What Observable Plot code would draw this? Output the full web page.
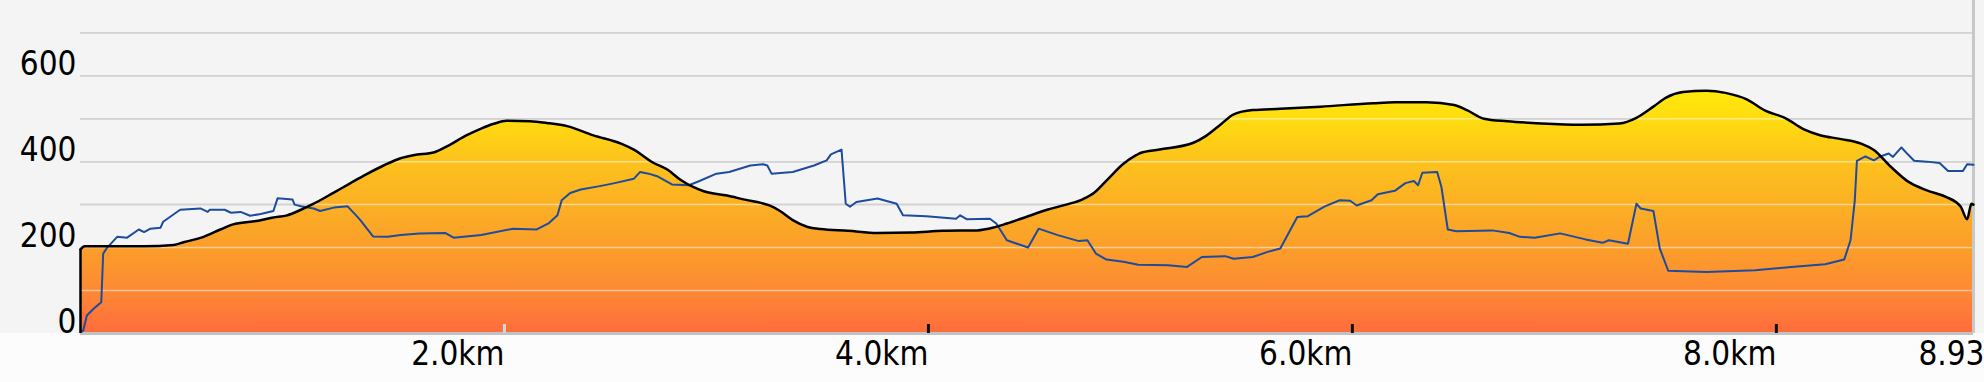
<!DOCTYPE html>
<html>
<head>
<meta charset="utf-8">
<script src="https://cdn.jsdelivr.net/npm/d3@7"></script>
<script src="https://cdn.jsdelivr.net/npm/@observablehq/plot@0.6"></script>
<style>
  html, body { margin: 0; padding: 0; background: #fcfcfc; }
  #chart svg { display: block; }
</style>
</head>
<body>
<svg width="0" height="0" style="position:absolute">
  <defs>
    <linearGradient id="elevGrad" x1="0" y1="0" x2="0" y2="1">
      <stop offset="0" stop-color="#ffe90a"/>
      <stop offset="0.12" stop-color="#ffdc10"/>
      <stop offset="0.29" stop-color="#fdc21c"/>
      <stop offset="0.47" stop-color="#fcb024"/>
      <stop offset="0.65" stop-color="#fb9e2a"/>
      <stop offset="0.82" stop-color="#fd8a33"/>
      <stop offset="1" stop-color="#ff6c3d"/>
    </linearGradient>
  </defs>
</svg>
<div id="chart"></div>
<script>
// Elevation profile (km, value)
const elevKm = [0.00,0.02,0.30,0.44,0.49,0.57,0.66,0.72,0.82,0.91,0.975,1.04,1.10,1.195,1.27,1.35,1.43,1.51,1.57,1.67,1.73,1.82,1.89,1.95,2.01,2.12,2.20,2.30,2.42,2.55,2.61,2.70,2.77,2.83,2.89,2.94,3.05,3.14,3.21,3.25,3.30,3.36,3.43,3.49,3.62,3.76,3.92,4.07,4.23,4.31,4.37,4.47,4.56,4.65,4.73,4.78,4.84,4.92,4.98,5.00,5.09,5.25,5.31,5.38,5.44,5.53,5.66,5.85,6.10,6.20,6.35,6.48,6.54,6.62,6.73,6.89,7.08,7.26,7.34,7.42,7.48,7.56,7.67,7.76,7.86,7.95,8.04,8.13,8.21,8.30,8.40,8.46,8.54,8.62,8.71,8.80,8.87,8.90,8.92,8.93];
const elevVal = [196,203,203,206,213,223,242,254,261,270,275,288,302,328,349,371,391,408,415,422,436,461,477,488,495,494,490,482,461,442,428,398,381,358,341,331,321,311,304,298,285,264,248,243,239,234,235,239,240,247,256,273,288,300,313,327,356,395,415,420,428,444,460,487,510,520,523,528,536,538,538,532,520,500,494,489,486,489,502,528,549,562,565,560,545,518,502,475,461,453,442,427,388,354,333,318,295,266,302,300];

// Second series (blue line)
const lineKm = [0.008,0.013,0.03,0.063,0.098,0.107,0.126,0.173,0.22,0.275,0.30,0.33,0.377,0.39,0.47,0.566,0.60,0.61,0.68,0.71,0.755,0.80,0.85,0.91,0.93,1.00,1.01,1.04,1.10,1.13,1.195,1.26,1.30,1.32,1.38,1.45,1.51,1.60,1.72,1.76,1.89,2.04,2.15,2.21,2.25,2.27,2.31,2.36,2.45,2.52,2.61,2.64,2.68,2.72,2.79,2.87,2.92,3.00,3.06,3.16,3.22,3.24,3.26,3.36,3.46,3.52,3.54,3.59,3.61,3.63,3.66,3.76,3.85,3.88,3.99,4.13,4.15,4.18,4.29,4.32,4.37,4.47,4.52,4.61,4.71,4.75,4.79,4.84,4.92,4.99,5.13,5.22,5.29,5.40,5.44,5.53,5.60,5.66,5.74,5.79,5.87,5.94,5.99,6.02,6.09,6.12,6.20,6.25,6.29,6.31,6.33,6.40,6.42,6.45,6.49,6.66,6.74,6.79,6.86,6.98,7.10,7.18,7.21,7.30,7.34,7.36,7.42,7.45,7.49,7.67,7.90,8.07,8.23,8.32,8.35,8.37,8.38,8.42,8.46,8.49,8.53,8.55,8.59,8.62,8.65,8.71,8.77,8.81,8.88,8.90,8.93];
const lineVal = [5,7,42,58,73,186,200,225,223,242,236,244,246,260,288,291,283,288,288,281,283,274,278,285,315,312,300,296,291,285,293,296,275,264,226,225,229,233,234,223,229,244,242,257,275,310,327,335,343,350,360,376,372,366,347,345,355,372,376,391,394,391,372,376,391,403,417,428,302,295,306,314,302,275,273,267,275,266,267,256,217,200,244,229,215,217,186,172,167,160,159,155,178,180,174,178,190,198,271,273,296,310,309,298,310,324,332,350,355,345,374,376,341,242,238,240,234,225,223,233,219,211,217,209,302,291,285,198,146,143,147,155,161,172,217,310,402,412,403,412,419,411,433,417,402,400,397,378,378,394,393];

// Axes
const gridVals = [100,200,300,400,500,600,700];
const yTicks = [0,200,400,600];
const xTicks = [2,4,6,8];
const xTickLabels = ["2.0km","4.0km","6.0km","8.0km"];
const xEnd = 8.93;
const xEndLabel = "8.93";

const elev = elevKm.map((k, i) => ({km: k, v: elevVal[i]}));
const line = lineKm.map((k, i) => ({km: k, v: lineVal[i]}));

const font = "'DejaVu Sans Condensed', 'DejaVu Sans', sans-serif";

const chart = Plot.plot({
  width: 1984,
  height: 382,
  marginLeft: 80,
  marginRight: 11,
  marginTop: 0,
  marginBottom: 49,
  x: {domain: [0, xEnd], axis: null},
  y: {domain: [0, 775], axis: null},
  style: {
    background: "linear-gradient(to bottom, #f4f4f4 0, #f4f4f4 333px, #fcfcfc 333px)",
    fontFamily: font,
    overflow: "visible"
  },
  marks: [
    Plot.ruleY(gridVals, {stroke: "#a6a6a6", strokeWidth: 1.5}),
    Plot.areaY(elev, {x: "km", y: "v", fill: "url(#elevGrad)", curve: "monotone-x"}),
    Plot.ruleY(gridVals, {stroke: "#ffffff", strokeOpacity: 0.5, strokeWidth: 1.5, ariaLabel: "inner-grid"}),
    Plot.ruleY([0], {stroke: "#c2c2c2", strokeWidth: 3}),
    Plot.ruleX([xEnd], {stroke: "#c8c8c8", strokeWidth: 3}),
    Plot.line(line, {x: "km", y: "v", stroke: "#1d4b9e", strokeWidth: 2}),
    Plot.line(line, {x: "km", y: "v", stroke: "#3c3d44", strokeWidth: 2, ariaLabel: "inner-line"}),
    Plot.line(elev, {x: "km", y: "v", stroke: "#000", strokeWidth: 2.5, curve: "monotone-x"}),
    Plot.ruleX([elev[0]], {x: "km", y1: 0, y2: "v", stroke: "#000", strokeWidth: 2.5}),
    Plot.tickX(xTicks, {x: d => d, insetTop: 324, stroke: d => d === xTicks[0] ? "#d6d6d6" : "#111", strokeWidth: 3}),
    Plot.text(xTicks, {x: d => d, text: (d, i) => xTickLabels[i], frameAnchor: "bottom", textAnchor: "end", lineAnchor: "top", dy: 8, fontSize: 33, fill: "#000"}),
    Plot.text([xEnd], {x: d => d, text: () => xEndLabel, frameAnchor: "bottom", textAnchor: "end", lineAnchor: "top", dy: 8, dx: 11, fontSize: 33, fill: "#000"}),
    Plot.text(yTicks, {y: d => d, text: d => String(d), frameAnchor: "left", textAnchor: "end", lineAnchor: "bottom", dx: -4, dy: -1, fontSize: 33, fill: "#000"})
  ]
});

// Clip the inner grid & inner line to the elevation area
const ns = "http://www.w3.org/2000/svg";
const areaPath = chart.querySelector('g[aria-label="area"] path');
if (areaPath) {
  const defs = document.createElementNS(ns, "defs");
  const cp = document.createElementNS(ns, "clipPath");
  cp.setAttribute("id", "areaClip");
  const p = document.createElementNS(ns, "path");
  p.setAttribute("d", areaPath.getAttribute("d"));
  const tr = areaPath.parentNode.getAttribute("transform");
  if (tr) p.setAttribute("transform", tr);
  cp.appendChild(p);
  defs.appendChild(cp);
  chart.insertBefore(defs, chart.firstChild);
  chart.querySelectorAll('g[aria-label="inner-grid"], g[aria-label="inner-line"]').forEach(g => {
    const wrap = document.createElementNS(ns, "g");
    wrap.setAttribute("clip-path", "url(#areaClip)");
    g.parentNode.insertBefore(wrap, g);
    wrap.appendChild(g);
  });
}

document.getElementById("chart").appendChild(chart);
</script>
</body>
</html>
